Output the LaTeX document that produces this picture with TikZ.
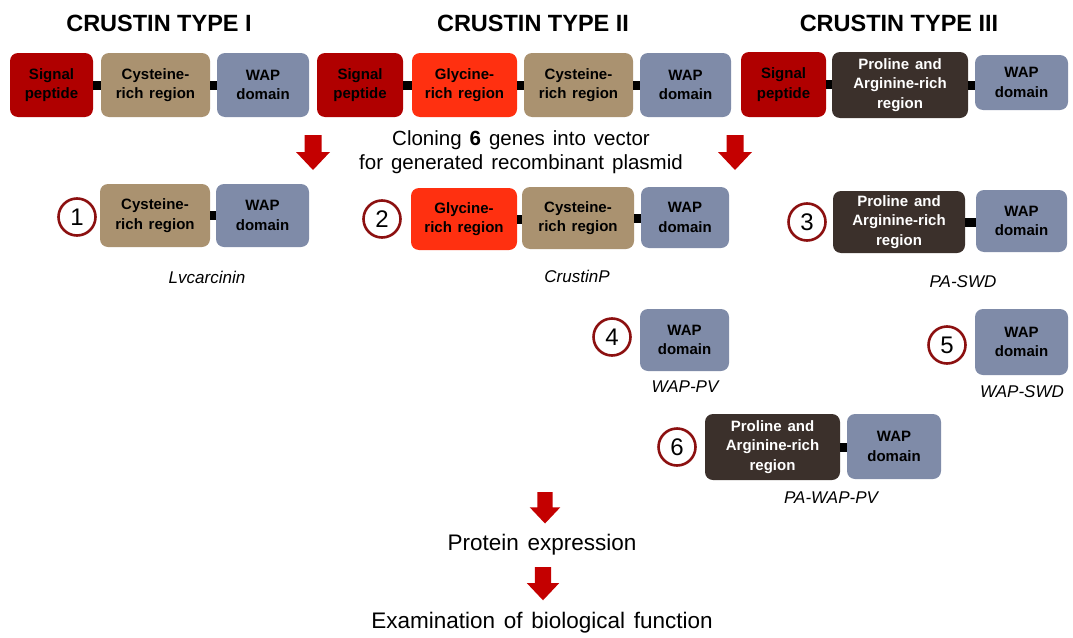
\documentclass[tikz,border=0pt]{standalone}
\usepackage{fontspec}
\setmainfont{Liberation Sans}
\newfontfamily\widefont{Liberation Sans}[WordSpace=1.8]
\newfontfamily\midfont{Liberation Sans}[WordSpace=1.3]
\newfontfamily\boxfont{Liberation Sans}[WordSpace=1.4]
\begin{document}
\begin{tikzpicture}[x=1pt,y=-1pt,
  blk/.style={rectangle,rounded corners=8pt,inner sep=0pt,align=center,
    font=\boxfont\bfseries\fontsize{15}{19.5}\selectfont},
  sig/.style={blk,fill=sigred,text=black},
  gly/.style={blk,fill=glyred,text=black},
  cys/.style={blk,fill=cystan,text=black},
  wap/.style={blk,fill=wapblue,text=black},
  pro/.style={blk,fill=probrown,text=white},
  link/.style={line width=9pt,draw=black},
  num/.style={circle,draw=circred,line width=2.6pt,minimum size=37pt,inner sep=0pt,
    font=\fontsize{24}{24}\selectfont},
  title/.style={font=\bfseries\fontsize{23.5}{26}\selectfont},
  gname/.style={font=\itshape\fontsize{17}{20}\selectfont},
  stepline/.style={font=\widefont\fontsize{22.5}{26}\selectfont},
  downarr/.pic={\fill[arrred] (-8.5,0) -- (8.5,0) -- (8.5,17) -- (17,17) -- (0,35) -- (-17,17) -- (-8.5,17) -- cycle;}
]
\definecolor{sigred}{RGB}{176,0,0}
\definecolor{glyred}{RGB}{255,48,16}
\definecolor{cystan}{RGB}{170,146,112}
\definecolor{wapblue}{RGB}{127,139,168}
\definecolor{probrown}{RGB}{59,48,43}
\definecolor{circred}{RGB}{140,16,16}
\definecolor{arrred}{RGB}{196,0,0}
\useasboundingbox (0,0) rectangle (1073,637);

% titles
\node[title] (t1) at (159,23) {CRUSTIN TYPE I};
\node[title] (t2) at (533,23) {CRUSTIN TYPE II};
\node[title] (t3) at (899,23) {CRUSTIN TYPE III};

% top row
\node[sig,minimum width=83pt,minimum height=64pt] (sp1) at (51.5,85) {Signal\\peptide};
\node[cys,minimum width=109pt,minimum height=64pt] (cy1) at (155.5,85) {Cysteine-\\rich region};
\node[wap,minimum width=92pt,minimum height=64pt] (wp1) at (263,85) {WAP\\domain};
\node[sig,minimum width=86pt,minimum height=64pt] (sp2) at (360,85) {Signal\\peptide};
\node[gly,minimum width=105pt,minimum height=64pt] (gl2) at (464.5,85) {Glycine-\\rich region};
\node[cys,minimum width=109pt,minimum height=64pt] (cy2) at (578.5,85) {Cysteine-\\rich region};
\node[wap,minimum width=91pt,minimum height=64pt] (wp2) at (685.5,85) {WAP\\domain};
\node[sig,minimum width=85pt,minimum height=65pt] (sp3) at (783.5,84.5) {Signal\\peptide};
\node[pro,minimum width=136pt,minimum height=66pt] (pr3) at (900,85) {Proline and\\Arginine-rich\\region};
\node[wap,minimum width=93pt,minimum height=55pt] (wp3) at (1021.5,82.5) {WAP\\domain};
\draw[link] (sp1.east) -- (sp1.east -| cy1.west);
\draw[link] (cy1.east) -- (cy1.east -| wp1.west);
\draw[link] (sp2.east) -- (sp2.east -| gl2.west);
\draw[link] (gl2.east) -- (gl2.east -| cy2.west);
\draw[link] (cy2.east) -- (cy2.east -| wp2.west);
\draw[link] (sp3.east) -- (sp3.east -| pr3.west);
\draw[link] (pr3.east) -- (pr3.east -| wp3.west);

% cloning step
\pic at (313,135) {downarr};
\pic at (735,135) {downarr};
\node[font=\midfont\fontsize{20.5}{23.5}\selectfont,align=center] (clone) at (521,152)
  {Cloning \textbf{6} genes into vector\\for generated recombinant plasmid};

% construct 1
\node[num] (n1) at (77,217) {1};
\node[cys,minimum width=110pt,minimum height=63pt] (cya) at (155,215.5) {Cysteine-\\rich region};
\node[wap,minimum width=93pt,minimum height=63pt] (wpa) at (262.5,215.5) {WAP\\domain};
\draw[link] (cya.east) -- (cya.east -| wpa.west);
\node[gname] (g1) at (207,277) {Lvcarcinin};

% construct 2
\node[num] (n2) at (382,219) {2};
\node[gly,minimum width=106pt,minimum height=62pt] (glb) at (464,219) {Glycine-\\rich region};
\node[cys,minimum width=112pt,minimum height=62pt] (cyb) at (578,218) {Cysteine-\\rich region};
\node[wap,minimum width=88pt,minimum height=61pt] (wpb) at (685,217.5) {WAP\\domain};
\draw[link] (glb.east) -- (glb.east -| cyb.west);
\draw[link] (cyb.east) -- (cyb.east -| wpb.west);
\node[gname] (g2) at (577,276) {CrustinP};

% construct 3
\node[num] (n3) at (807,222) {3};
\node[pro,minimum width=132pt,minimum height=62pt] (prc) at (899,222) {Proline and\\Arginine-rich\\region};
\node[wap,minimum width=91pt,minimum height=62pt] (wpc) at (1021.5,221) {WAP\\domain};
\draw[link] (prc.east) -- (prc.east -| wpc.west);
\node[gname] (g3) at (963,282) {PA-SWD};

% construct 4
\node[num] (n4) at (612,337) {4};
\node[wap,minimum width=89pt,minimum height=62pt] (wpd) at (684.5,340) {WAP\\domain};
\node[gname] (g4) at (685,387) {WAP-PV};

% construct 5
\node[num] (n5) at (947,345) {5};
\node[wap,minimum width=93pt,minimum height=66pt] (wpe) at (1021.5,342) {WAP\\domain};
\node[gname] (g5) at (1022,392) {WAP-SWD};

% construct 6
\node[num] (n6) at (677,447) {6};
\node[pro,minimum width=135pt,minimum height=66pt] (prf) at (772.5,447) {Proline and\\Arginine-rich\\region};
\node[wap,minimum width=94pt,minimum height=65pt] (wpf) at (894,446.5) {WAP\\domain};
\draw[link] (prf.east) -- (prf.east -| wpf.west);
\node[gname] (g6) at (831,498) {PA-WAP-PV};

% downstream steps
\pic[scale=0.9] at (545,492) {downarr};
\node[stepline] (expr) at (542,545) {Protein expression};
\pic[scale=0.95] at (543,567) {downarr};
\node[stepline] (exam) at (542,623) {Examination of biological function};
\end{tikzpicture}
\end{document}
